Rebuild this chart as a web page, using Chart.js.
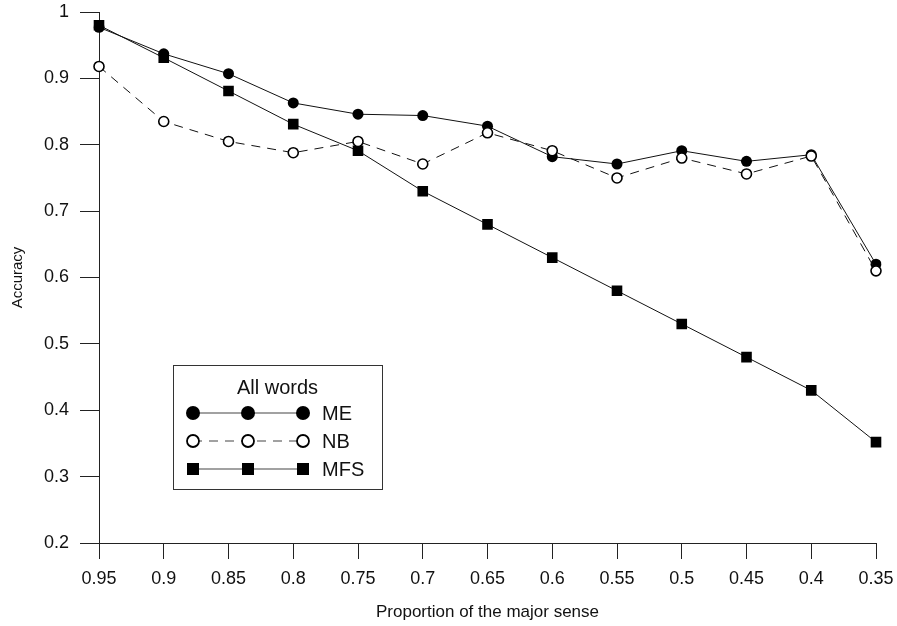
<!DOCTYPE html>
<html>
<head>
<meta charset="utf-8">
<script src="https://cdn.jsdelivr.net/npm/chart.js@4/dist/chart.umd.min.js"></script>
<style>
  body { margin: 0; background: #fff; }
  #wrap { width: 897px; height: 626px; position: relative; }
</style>
</head>
<body>
<div id="wrap"><canvas id="lineChart"></canvas></div>
<script>
// proportion of the major sense (x categories)
var proportions = ['0.95', '0.9', '0.85', '0.8', '0.75', '0.7', '0.65', '0.6', '0.55', '0.5', '0.45', '0.4', '0.35'];
var meAcc  = [0.977, 0.937, 0.907, 0.863, 0.846, 0.844, 0.828, 0.782, 0.771, 0.791, 0.775, 0.785, 0.620];
var nbAcc  = [0.918, 0.835, 0.805, 0.788, 0.805, 0.771, 0.818, 0.791, 0.750, 0.780, 0.756, 0.783, 0.610];
var mfsAcc = [0.980, 0.931, 0.881, 0.831, 0.791, 0.730, 0.680, 0.630, 0.580, 0.530, 0.480, 0.430, 0.352];
var legendTitle = 'All words';

var FONT = 'Liberation Sans, Arial, sans-serif';
var INK = '#111';

// box legend like the original figure
var boxLegend = {
    id: 'boxLegend',
    afterDraw: function (chart) {
        var ctx = chart.ctx;
        var x0 = 173, y0 = 365, w = 209, h = 124;
        ctx.save();
        ctx.fillStyle = '#fff';
        ctx.fillRect(x0, y0, w, h);
        ctx.strokeStyle = '#333';
        ctx.lineWidth = 1;
        ctx.strokeRect(x0 + 0.5, y0 + 0.5, w, h);
        ctx.fillStyle = INK;
        ctx.font = '20px ' + FONT;
        ctx.textAlign = 'center';
        ctx.textBaseline = 'middle';
        ctx.fillText(legendTitle, x0 + w / 2, 388);
        var rows = [413, 441, 469];
        var xs = [193, 248, 303];
        chart.data.datasets.forEach(function (ds, i) {
            var y = rows[i];
            ctx.strokeStyle = '#444';
            ctx.lineWidth = 1.2;
            ctx.setLineDash(ds.borderDash || []);
            ctx.beginPath();
            ctx.moveTo(xs[0], y);
            ctx.lineTo(xs[2], y);
            ctx.stroke();
            ctx.setLineDash([]);
            xs.forEach(function (x) {
                ctx.beginPath();
                if (ds.pointStyle === 'rect') {
                    ctx.fillStyle = '#000';
                    ctx.fillRect(x - 6, y - 6, 12, 12);
                } else if (ds.pointBackgroundColor === '#fff') {
                    ctx.arc(x, y, 6, 0, Math.PI * 2);
                    ctx.fillStyle = '#fff';
                    ctx.fill();
                    ctx.lineWidth = 1.8;
                    ctx.strokeStyle = '#000';
                    ctx.stroke();
                } else {
                    ctx.arc(x, y, 7, 0, Math.PI * 2);
                    ctx.fillStyle = '#000';
                    ctx.fill();
                }
            });
            ctx.fillStyle = INK;
            ctx.textAlign = 'left';
            ctx.fillText(ds.label, 322, y + 1);
        });
        ctx.restore();
    }
};

var ctxL = document.getElementById('lineChart').getContext('2d');
var myLineChart = new Chart(ctxL, {
    type: 'line',
    data: {
        labels: proportions,
        datasets: [{
            label: 'ME',
            data: meAcc,
            borderColor: '#111',
            borderWidth: 1,
            pointStyle: 'circle',
            pointRadius: 5.5,
            pointBackgroundColor: '#000',
            pointBorderColor: '#000',
            pointBorderWidth: 0,
            order: 2
        }, {
            label: 'NB',
            data: nbAcc,
            borderColor: '#111',
            borderWidth: 1,
            borderDash: [9, 7],
            pointStyle: 'circle',
            pointRadius: 5,
            pointBackgroundColor: '#fff',
            pointBorderColor: '#000',
            pointBorderWidth: 1.6,
            order: 1
        }, {
            label: 'MFS',
            data: mfsAcc,
            borderColor: '#111',
            borderWidth: 1,
            pointStyle: 'rect',
            pointRadius: 7.5,
            pointBackgroundColor: '#000',
            pointBorderColor: '#000',
            pointBorderWidth: 0,
            order: 3
        }]
    },
    options: {
        responsive: true,
        maintainAspectRatio: false,
        animation: false,
        layout: { padding: { left: 0, top: 12, right: 21, bottom: 0 } },
        plugins: {
            legend: { display: false },
            tooltip: { enabled: false }
        },
        elements: { line: { tension: 0 } },
        scales: {
            x: {
                type: 'category',
                offset: false,
                grid: { drawOnChartArea: false, drawTicks: true, tickLength: 16, color: '#222' },
                border: { color: '#222', width: 1 },
                ticks: { color: INK, font: { family: FONT, size: 18 }, padding: 9, autoSkip: false, maxRotation: 0 },
                title: { display: true, text: 'Proportion of the major sense', color: INK, font: { family: FONT, size: 17 }, padding: { top: 0, bottom: 3 } },
                afterFit: function (scale) {
                    scale.height = 83;
                    scale.paddingLeft = 0;
                    scale.paddingRight = 0;
                }
            },
            y: {
                min: 0.2,
                max: 1,
                grid: { drawOnChartArea: false, drawTicks: true, tickLength: 19, color: '#222' },
                border: { color: '#222', width: 1 },
                ticks: {
                    stepSize: 0.1,
                    color: INK,
                    font: { family: FONT, size: 18 },
                    padding: 11,
                    callback: function (v) { return String(+v.toFixed(1)); }
                },
                title: { display: true, text: 'Accuracy', color: INK, font: { family: FONT, size: 15 }, padding: { top: 9, bottom: 0 } },
                afterFit: function (scale) {
                    scale.width = 99;
                    scale.paddingTop = 0;
                    scale.paddingBottom = 0;
                }
            }
        }
    },
    plugins: [boxLegend]
});
</script>
</body>
</html>
